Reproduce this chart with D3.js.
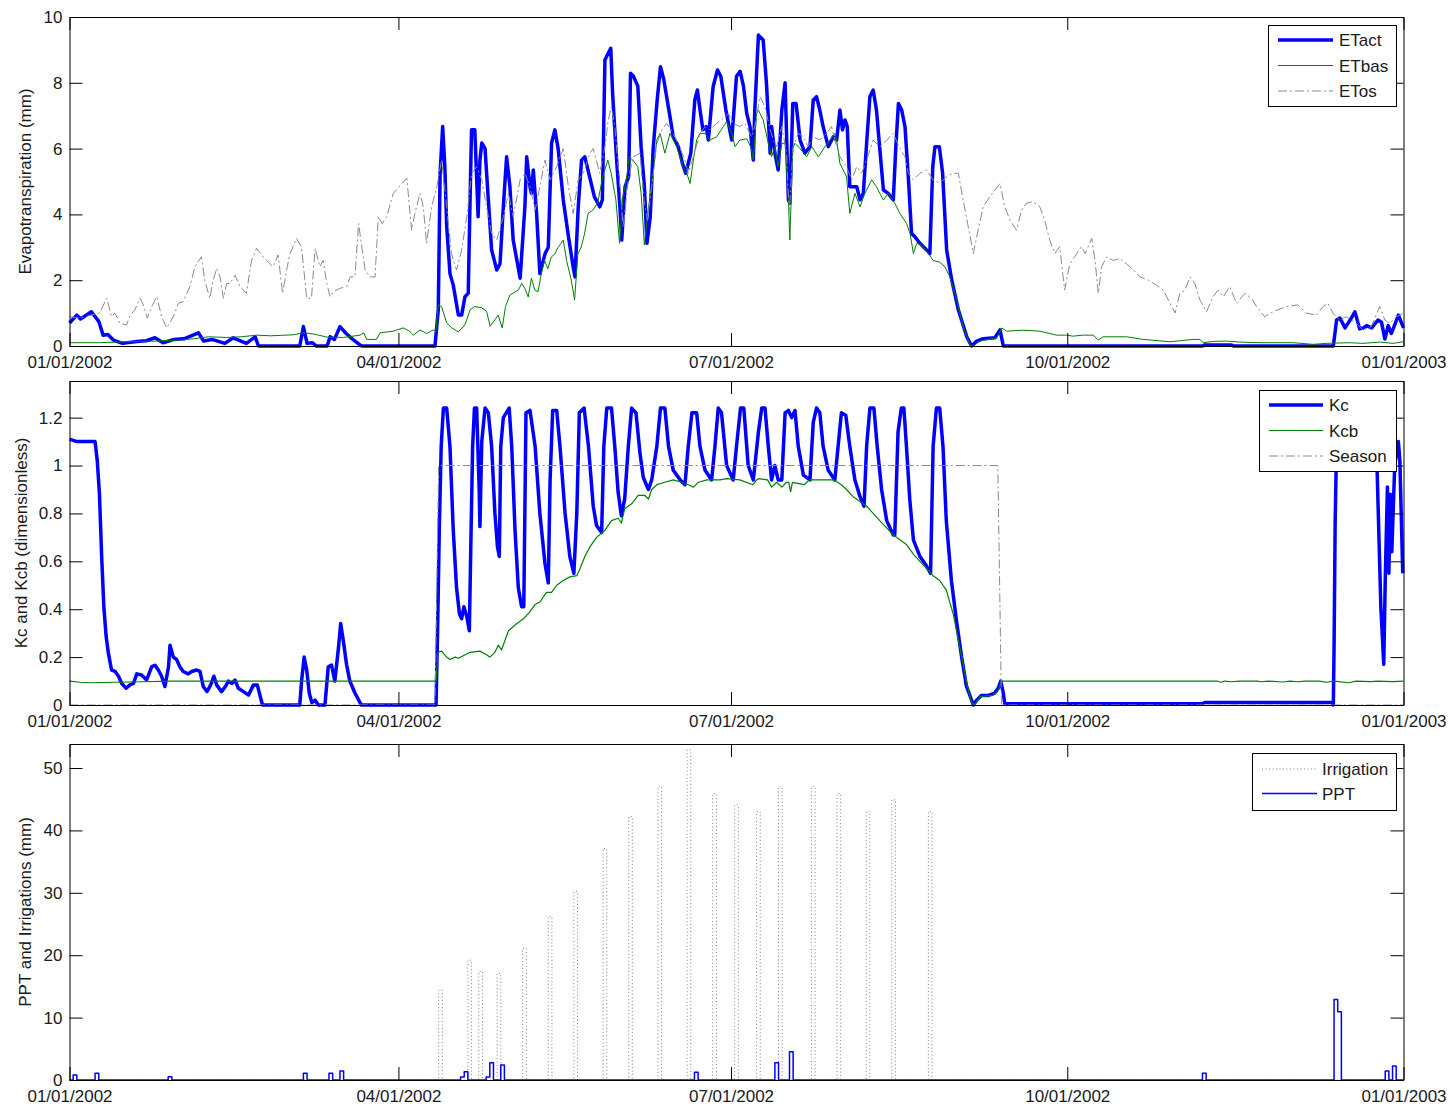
<!DOCTYPE html>
<html>
<head>
<meta charset="utf-8">
<script src="https://cdn.jsdelivr.net/npm/d3@7"></script>
<style>
  html, body { margin: 0; padding: 0; background: #fff; }
  svg { display: block; font-family: "Liberation Sans", Arial, Helvetica, sans-serif; }
</style>
</head>
<body>
<svg id="chart" width="1450" height="1107"></svg>
<script>
// ---- Daily water balance, 2002 (x = day offset from 01/01/2002) ----

// Actual evapotranspiration (mm)
const etAct = [[0,0.70],[2,0.94],[3,0.82],[6,1.04],[8,0.75],[9.2,0.33],[10.5,0.35],[12,0.18],[14.5,0.08],[18.4,0.14],[21,0.16],[23.4,0.25],[25.6,0.1],[28.6,0.2],[31.3,0.22],[35.3,0.4],[36.7,0.15],[39,0.2],[42.5,0.08],[44.8,0.25],[48.4,0.08],[50.8,0.28],[51.7,0],[63,0],[64,0.59],[65,0.08],[66.5,0.1],[67.5,0],[70.5,0],[71.3,0.28],[72.5,0.2],[74,0.59],[75.7,0.38],[77.5,0.2],[79.3,0.05],[80,0],[100,0],[100.9,1.1],[101.4,5.25],[102.1,6.67],[102.7,5.45],[103.2,3.63],[104.1,2.2],[105,1.85],[106.4,0.94],[107.3,0.94],[108.2,1.5],[109.1,1.6],[109.6,4.44],[110,6.57],[110.9,6.57],[111.8,3.93],[112.3,5.65],[112.8,6.17],[113.7,6.0],[114.6,4.44],[115.5,2.92],[116.9,2.31],[117.8,2.5],[118.7,4.23],[119.6,5.75],[120.5,4.84],[121.4,3.22],[123.3,2.06],[124.6,4.23],[125.1,5.75],[126,4.84],[126.4,4.64],[126.9,5.35],[127.8,4.03],[128.7,2.2],[130.1,2.8],[131,3.0],[131.9,6.17],[132.8,6.57],[133.7,6.0],[135.1,4.44],[136.4,3.42],[137.8,2.41],[138.3,2.1],[139.2,4.23],[140.1,5.65],[141,5.75],[142.3,5.15],[143.6,4.54],[145.1,4.23],[145.8,4.44],[146.5,8.69],[147.4,8.9],[148.1,9.05],[148.6,7.68],[149.7,5.65],[150.6,4.23],[151.1,3.22],[152,4.84],[153,5.15],[153.5,8.29],[154.3,8.2],[155.5,7.9],[156.4,6.06],[157.3,4.84],[158,3.12],[158.9,3.93],[159.7,6.0],[160.8,7.48],[161.7,8.49],[162.6,8.1],[164,7.17],[165.2,6.36],[166.6,6.06],[167.7,5.55],[168.6,5.25],[170,5.86],[171.1,7.48],[171.8,7.78],[172.4,7.27],[173.3,6.57],[174.2,6.67],[174.8,6.26],[176.1,7.88],[177.3,8.39],[178.2,8.2],[179.6,7.17],[181.2,6.26],[182.5,8.2],[183.5,8.35],[184.4,7.9],[185.3,7.07],[186.2,6.67],[187.1,5.65],[187.5,7.17],[188.5,9.45],[189.8,9.3],[190.7,7.98],[191.7,5.86],[192.1,6.67],[193,5.86],[193.9,5.35],[194.9,7.17],[195.8,8.0],[196.7,4.44],[197.1,4.34],[197.9,7.37],[198.8,7.37],[199.9,6.26],[201.2,5.86],[202.6,6.06],[203.5,7.48],[204.4,7.58],[205.3,7.17],[206.2,6.67],[207.6,6.06],[209,6.36],[209.9,6.26],[210.8,7.17],[211.5,6.57],[212.2,6.87],[212.8,6.67],[213.5,4.84],[214.4,4.84],[215.4,4.84],[216.3,4.44],[217.2,4.64],[218.1,6.16],[219,7.58],[219.9,7.78],[220.8,7.17],[221.7,6.0],[222.7,4.74],[224,4.64],[225.4,4.44],[226.1,6.06],[226.8,7.37],[227.7,7.17],[228.6,6.67],[229.5,5.15],[230.4,3.42],[231.3,3.32],[232.7,3.12],[234.5,2.92],[235.4,2.81],[236.2,5.45],[236.8,6.06],[238,6.06],[238.9,5.25],[240,2.92],[241.4,2.0],[243.2,1.1],[245.5,0.28],[246.8,0],[248.2,0.15],[250,0.22],[253.2,0.25],[254.6,0.49],[255.5,0],[310,0],[310.5,0.03],[318,0.03],[318.5,0],[345.8,0],[346.7,0.79],[347.6,0.85],[349,0.55],[350.4,0.79],[351.7,1.04],[353,0.52],[354,0.55],[354.9,0.62],[356.3,0.55],[358,0.79],[359,0.72],[359.9,0.21],[360.8,0.62],[361.7,0.38],[363.6,0.94],[365,0.55]];

// Basal evapotranspiration (mm)
const etBas = [[0,0.1],[8,0.1],[15.6,0.13],[24,0.15],[30,0.18],[33.9,0.22],[38,0.28],[43,0.26],[47,0.28],[51.2,0.33],[55,0.31],[61.2,0.34],[64,0.4],[67,0.36],[70.4,0.27],[75,0.26],[79.5,0.33],[80.5,0.4],[81.3,0.2],[84,0.2],[85,0.4],[88.6,0.45],[91.3,0.55],[93,0.45],[94.1,0.33],[95.9,0.49],[97.7,0.38],[99.5,0.49],[100.2,0.43],[100.9,1.25],[101.8,1.2],[103.2,0.7],[104.6,0.55],[106.4,0.43],[108.2,0.64],[109.6,1.1],[110.9,1.2],[112.8,1.16],[114.1,1.06],[115.1,0.6],[116.4,0.8],[117.3,0.94],[118.4,0.55],[119.3,1.2],[120.5,1.55],[122.8,1.7],[123.3,1.8],[123.7,1.9],[124.6,1.75],[125.5,1.49],[126.4,2.06],[127.3,1.7],[128.2,1.65],[129.1,2.2],[130,2.6],[130.9,2.35],[131.8,2.7],[132.8,2.8],[133.7,3.0],[135.1,3.22],[136,2.6],[137.3,2.0],[138.2,1.4],[139.1,2.8],[140,3.0],[140.9,3.4],[141.9,4.03],[143.2,4.13],[144.5,4.34],[145.9,5.15],[147.3,5.65],[148.2,5.25],[149.5,4.44],[150.5,3.12],[151.4,4.54],[152.3,5.05],[153.2,5.75],[154.1,5.65],[155.5,5.45],[156.4,4.64],[157.3,3.07],[158.2,4.03],[159.7,5.25],[160.7,6.26],[161.6,6.46],[162.9,5.86],[164.3,6.46],[166.1,6.06],[167.9,5.45],[168.9,5.25],[169.8,4.94],[170.7,5.65],[171.6,6.26],[172.5,6.46],[173.9,6.46],[175.2,6.26],[177.1,6.36],[178.9,6.67],[179.8,6.82],[181.2,6.46],[182.1,6.06],[183.4,6.26],[185.3,6.3],[186.6,6.0],[187.1,5.65],[188,7.07],[188.5,7.17],[189.8,6.87],[191.2,6.16],[192.1,5.75],[193,6.06],[193.9,5.45],[194.9,6.16],[195.8,6.16],[196.7,4.44],[197.1,3.22],[197.9,6.0],[198.5,6.16],[199.9,6.0],[201.7,5.75],[203.1,6.06],[204.9,5.75],[206.7,6.06],[208.1,6.26],[209.4,6.46],[209.9,6.26],[210.8,5.55],[212.6,5.15],[213.5,4.03],[214.9,4.64],[216.3,4.23],[217.6,4.64],[219.5,5.05],[220.8,4.84],[221.7,4.64],[222.7,4.44],[224,4.64],[225.8,4.34],[227.2,4.03],[229,3.73],[230,3.42],[230.9,2.81],[231.8,3.12],[233.2,3.07],[235,2.81],[236.3,2.6],[238.1,2.55],[239.5,2.41],[240.9,2.1],[242.7,1.4],[244.5,0.59],[246.3,0.05],[247.3,0],[249.1,0.15],[253.7,0.25],[255.1,0.55],[256.4,0.45],[261,0.48],[265.5,0.45],[270.1,0.33],[272.8,0.33],[274.6,0.3],[277.4,0.33],[280.1,0.33],[281.5,0.18],[282.8,0.28],[289.2,0.28],[293.8,0.2],[301.1,0.13],[307.5,0.2],[309.3,0.2],[310.2,0.1],[313,0.14],[316.6,0.15],[320,0.12],[325.7,0.1],[334.8,0.1],[340.3,0.05],[343.9,0.08],[350.3,0.1],[353.9,0.08],[358.5,0.12],[362.2,0.08],[365,0.13]];

// Reference evapotranspiration (mm)
const etOs = [[0,0.89],[3.2,0.85],[6.3,0.95],[8.2,1.0],[10.2,1.45],[11.5,0.89],[12.4,1.0],[13.8,0.69],[15.6,0.64],[16.6,0.94],[17.9,1.1],[19.3,1.45],[20.2,1.25],[21.3,0.85],[22.5,1.2],[23.9,1.5],[25.2,0.89],[26.6,0.55],[28.4,0.89],[29.8,1.3],[31.1,1.35],[33,1.82],[34.3,2.41],[36.1,2.71],[37,2.0],[38.4,1.45],[39.3,2.0],[40.3,2.36],[41.2,2.1],[42.1,1.45],[43,1.9],[43.9,1.9],[45.3,2.15],[46.6,1.82],[48.4,1.6],[49.8,2.6],[51.2,2.97],[53,2.7],[55.7,2.41],[57.1,2.77],[58.3,1.6],[59.4,2.3],[60.3,2.8],[62.1,3.27],[63.5,3.0],[64.9,1.45],[66.2,1.45],[67.2,2.97],[68.5,2.41],[69.4,2.6],[70.4,1.9],[71.3,1.5],[72.2,1.65],[74,1.75],[75.9,1.82],[76.8,2.1],[78.1,2.1],[79.1,3.72],[80,3.0],[80.9,2.3],[82.3,2.1],[83.6,2.1],[84.5,3.93],[85.5,3.72],[86.8,3.93],[88.6,4.64],[92.3,5.1],[93.6,3.52],[94.5,4.03],[95.9,4.64],[96.8,4.23],[97.7,3.12],[99.1,4.23],[100.5,4.84],[101.8,5.65],[103.2,4.23],[104.5,2.81],[105.9,2.31],[107.3,2.92],[108.7,3.93],[110,5.25],[111.4,5.45],[112.8,5.05],[114.1,4.23],[115.5,3.42],[116.9,3.22],[118.7,3.93],[120.1,4.64],[121.4,3.93],[123.3,5.05],[124.6,5.25],[126,4.84],[127.4,4.13],[128.7,4.84],[130.1,5.65],[131.5,5.05],[133.3,5.45],[135.1,6.0],[136.5,4.84],[137.8,4.03],[139.2,5.05],[140.6,5.25],[142.4,5.86],[143.3,6.0],[145.1,5.25],[146.5,6.06],[147.4,6.87],[148.3,7.27],[149.2,6.67],[150.6,4.84],[151.5,3.63],[152.9,5.05],[154.2,5.75],[156.1,5.86],[157.2,4.44],[158.1,3.83],[159.3,4.84],[160.7,6.16],[162.1,6.57],[163.4,6.77],[165.2,6.46],[167.1,6.0],[168.4,5.65],[169.3,5.25],[170.7,5.75],[172.5,6.46],[173.9,6.67],[175.2,6.57],[177.1,6.77],[178.4,6.87],[180.3,7.07],[181.6,6.77],[183.4,6.67],[184.8,6.77],[186.6,6.36],[187.5,6.67],[188.9,7.58],[190.3,7.27],[191.7,6.57],[192.6,6.26],[193.5,6.06],[194.9,6.67],[196.2,5.86],[196.9,4.03],[198,6.06],[199.4,6.46],[200.8,6.36],[202.1,6.06],[203.5,6.36],[205.3,6.26],[207.1,6.46],[208.5,6.67],[209.9,6.06],[210.8,5.75],[212.6,5.45],[214,5.05],[215.4,5.45],[216.7,5.25],[218.1,5.65],[219.9,6.26],[221.7,6.06],[223.6,6.26],[225.4,6.46],[227.2,6.0],[228.6,5.75],[229.5,5.25],[230.9,5.05],[232.7,5.25],[234.5,5.35],[236.3,5.05],[238.1,4.94],[240,5.15],[241.8,5.25],[243.2,5.25],[244.5,4.44],[245.9,3.63],[247.3,2.81],[248.6,3.52],[250,4.23],[251.8,4.54],[253.2,4.74],[254.6,4.94],[255.9,4.23],[257.3,3.83],[259.1,3.52],[260.5,4.13],[261.8,4.34],[263.6,4.39],[265.5,4.23],[266.8,3.83],[268.2,3.22],[269.6,2.81],[270.9,3.02],[272.3,1.7],[273.7,2.5],[275,2.71],[276.9,3.02],[277.9,2.81],[279.7,3.27],[280.6,2.6],[281.5,1.6],[282.4,2.41],[283.8,2.71],[285.6,2.6],[287.4,2.66],[289.2,2.5],[291.1,2.31],[292.9,2.1],[295.2,2.0],[297.4,1.85],[299.3,1.7],[301.1,1.3],[302.5,1.0],[303.8,1.6],[305.2,1.7],[306.6,2.1],[307.9,1.9],[309.3,1.4],[311.1,1.04],[312.9,1.5],[314.3,1.7],[315.7,1.5],[317.5,1.8],[319.3,1.3],[321.6,1.6],[323.4,1.45],[324.8,1.2],[327,0.89],[329.3,1.04],[333,1.2],[336.1,1.25],[338.4,1.0],[341.2,0.94],[343,1.2],[344.3,1.3],[345.7,1.0],[347.5,0.79],[349.4,0.89],[352.1,0.69],[353.9,0.49],[356.2,0.59],[358.5,1.2],[359.9,0.79],[361.2,0.69],[363.1,0.89],[365,1.0]];

// Crop coefficient Kc (dimensionless)
const kc = [[0,1.11],[2,1.10],[7,1.10],[7.6,1.02],[8.2,0.88],[8.8,0.62],[9.4,0.41],[10,0.29],[10.6,0.22],[11.5,0.146],[12.5,0.14],[13.4,0.12],[14.3,0.09],[15.5,0.07],[16.6,0.085],[17.5,0.09],[18.4,0.13],[19.7,0.125],[21.1,0.105],[22.5,0.16],[23.4,0.166],[24.3,0.146],[25.2,0.12],[26.1,0.077],[27.1,0.16],[27.5,0.25],[28.4,0.2],[29.3,0.19],[30.2,0.16],[31.1,0.14],[32.5,0.13],[33.4,0.14],[34.8,0.146],[35.7,0.14],[36.6,0.077],[37.6,0.056],[38.6,0.083],[39.5,0.12],[40.3,0.083],[41.6,0.056],[42.6,0.076],[43.5,0.1],[44.4,0.09],[45.3,0.104],[46.2,0.07],[47.6,0.056],[49,0.042],[50.3,0.083],[51.4,0.083],[52.1,0.042],[52.8,0],[63,0],[63.5,0.1],[64.2,0.2],[64.9,0.146],[65.6,0.05],[66.3,0.01],[67.2,0.02],[68.1,0],[69.9,0],[70.8,0.16],[71.7,0.167],[72.6,0.1],[73.6,0.24],[74.2,0.34],[74.9,0.27],[75.8,0.17],[76.7,0.1],[78.1,0.05],[79.5,0.01],[79.9,0],[100.3,0],[100.7,0.3],[101.2,0.75],[101.7,1.08],[102.3,1.24],[103.2,1.24],[104.1,1.08],[105,0.73],[105.9,0.49],[106.7,0.38],[107.3,0.36],[107.9,0.41],[108.7,0.37],[109.4,0.31],[109.8,0.66],[110.3,1.08],[110.8,1.24],[111.4,1.24],[112.1,0.9],[112.3,0.745],[112.8,1.1],[113.7,1.24],[114.6,1.22],[115.5,1.08],[116.4,0.8],[117.1,0.66],[117.6,0.62],[118,1.08],[118.7,1.2],[120.3,1.24],[121,1.08],[121.9,0.73],[122.8,0.49],[123.7,0.41],[124.3,0.41],[124.9,1.22],[126,1.23],[127.4,1.08],[128.7,0.8],[130.1,0.59],[131,0.51],[131.5,0.94],[132.2,1.23],[133.3,1.23],[134.2,1.08],[135.6,0.8],[136.9,0.62],[138,0.55],[138.8,0.8],[139.5,1.22],[140.8,1.24],[142,1.08],[143.3,0.83],[144.2,0.75],[145.6,0.72],[146.2,1.08],[147,1.24],[148.3,1.24],[149.2,1.08],[150.1,0.89],[151,0.79],[151.9,0.86],[152.9,1.08],[153.8,1.24],[155,1.22],[156.1,1.05],[157,0.95],[158.4,0.9],[159.3,0.94],[160.7,1.08],[161.7,1.24],[162.9,1.24],[163.9,1.08],[165.2,0.98],[167.1,0.94],[168.4,0.92],[169.3,1.08],[170.3,1.22],[171.6,1.22],[172.5,1.08],[173.9,0.98],[175.7,0.94],[176.6,1.08],[177.5,1.24],[178.4,1.22],[179.8,1.0],[181.6,0.94],[182.5,1.08],[183.6,1.24],[184.5,1.24],[185.7,1.0],[187.1,0.94],[188.5,1.14],[189.4,1.24],[190.3,1.24],[191.2,1.08],[192.1,0.94],[193,1.0],[193.9,0.94],[194.9,0.94],[195.8,1.22],[196.7,1.23],[197.6,1.2],[198.5,1.23],[199.4,1.08],[200.8,0.96],[202.6,0.94],[203.5,1.18],[204.4,1.24],[205.3,1.22],[206.2,1.08],[207.6,0.98],[209.4,0.94],[210.3,1.08],[211.2,1.22],[212.4,1.21],[213.5,1.08],[214.9,0.94],[216.3,0.87],[217.4,0.83],[218.1,1.08],[219,1.24],[220.1,1.24],[221,1.08],[222.2,0.9],[223.6,0.77],[225.4,0.71],[225.8,0.71],[226.7,1.14],[227.6,1.24],[228.3,1.24],[229,1.08],[229.9,0.86],[230.9,0.69],[232.7,0.62],[234.1,0.59],[235.6,0.55],[236.3,1.08],[237.2,1.24],[238.1,1.24],[239,1.08],[239.9,0.77],[241.3,0.52],[242.7,0.35],[244.1,0.2],[245.4,0.08],[247.3,0],[248.2,0.02],[249.5,0.04],[251.4,0.04],[253.2,0.05],[254.1,0.07],[254.8,0.1],[255.5,0.05],[255.9,0.005],[310,0.005],[310.5,0.01],[345.5,0.01],[345.8,0],[346,0.24],[346.3,0.76],[346.7,1.1],[357.3,1.1],[357.8,0.97],[358.5,0.58],[358.8,0.41],[359.6,0.17],[360,0.52],[360.6,0.91],[361,0.55],[361.4,0.88],[361.8,0.64],[362.6,1.0],[363.6,1.1],[364,1.02],[364.8,0.55]];

// Basal crop coefficient Kcb (dimensionless)
const kcb = [[0,0.1],[3,0.095],[6,0.093],[12,0.095],[20,0.097],[28,0.1],[100.3,0.1],[100.8,0.22],[101.8,0.225],[103.2,0.2],[104.1,0.19],[105.5,0.2],[106.4,0.195],[109.6,0.22],[112.3,0.225],[114.1,0.21],[115,0.2],[116.4,0.22],[117.3,0.25],[118.2,0.23],[120.1,0.31],[122.4,0.34],[124.2,0.36],[126,0.39],[127.4,0.42],[128.7,0.43],[130.5,0.47],[131.9,0.47],[133.3,0.5],[135.1,0.52],[136.9,0.535],[138.8,0.54],[139.7,0.57],[141,0.62],[142.4,0.66],[144.2,0.7],[146.5,0.73],[148.3,0.77],[150.1,0.78],[151,0.76],[151.9,0.82],[153.8,0.84],[155.6,0.875],[157.4,0.875],[158.4,0.86],[159.3,0.9],[160.7,0.92],[162.9,0.93],[165.2,0.94],[167.5,0.93],[169.3,0.92],[170.7,0.91],[172.1,0.93],[174.4,0.94],[178,0.94],[179.8,0.945],[183.4,0.94],[187,0.92],[188,0.94],[188.5,0.945],[191,0.94],[192.1,0.91],[193.5,0.93],[194.9,0.91],[196.2,0.93],[196.8,0.93],[197.3,0.89],[197.8,0.93],[201,0.92],[202.4,0.94],[205.6,0.94],[209.2,0.94],[211.2,0.92],[212.6,0.9],[214.4,0.87],[216.3,0.85],[218.1,0.83],[219.9,0.8],[221.7,0.77],[223.6,0.74],[225.4,0.71],[227.2,0.69],[229,0.67],[230.9,0.63],[232.7,0.6],[234.5,0.57],[236.3,0.54],[238.1,0.52],[239.9,0.48],[241.8,0.38],[243.6,0.24],[245.4,0.1],[246.8,0.01],[247.7,0],[249.1,0.035],[252.7,0.04],[254.1,0.06],[255,0.1],[314,0.1],[315,0.095],[316,0.1],[318,0.097],[320,0.1],[325,0.1],[326,0.097],[328,0.1],[332,0.096],[334,0.1],[336,0.097],[338,0.1],[342,0.1],[344,0.095],[346,0.1],[350,0.093],[352,0.1],[356,0.098],[358,0.1],[362,0.098],[365,0.1]];

// Growing season flag
const season = [[0,0],[100,0],[101,1],[254,1],[255,0],[365,0]];

// Irrigation events: [day, depth mm]
const irrigation = [[101,14.4],[109,19.2],[112,17.4],[117,17.1],[124,21.1],[131,26.2],[138,30.2],[146,37.1],[153,42.2],[161,47.0],[169,52.9],[176,45.9],[182,44.1],[188,43.0],[194,47.0],[203,47.0],[210,45.9],[218,43.0],[225,44.9],[235,43.0]];

// Precipitation events: [day, depth mm]
const ppt = [[1,0.8],[7,1.07],[27,0.53],[64,1.07],[71,1.07],[74,1.44],[107,0.5],[108,1.33],[114,0.5],[115,2.78],[118,2.4],[171,1.23],[193,2.78],[197,4.54],[310,1.07],[346,12.9],[347,10.95],[360,1.44],[362,2.24]];

// Axis ticks
const dateTicks = ["2002-01-01", "2002-04-01", "2002-07-01", "2002-10-01", "2003-01-01"];
const etTicks = [0, 2, 4, 6, 8, 10];
const kcTicks = [0, 0.2, 0.4, 0.6, 0.8, 1, 1.2];
const pptTicks = [0, 10, 20, 30, 40, 50];

// ---------------------------------------------------------------
const svg = d3.select("#chart");
svg.append("rect").attr("width", 1450).attr("height", 1107).attr("fill", "#fff");

const t0 = new Date(Date.UTC(2002, 0, 1));
const t1 = new Date(Date.UTC(2003, 0, 1));
const dayToDate = d => new Date(t0.getTime() + d * 864e5);
const tickDates = dateTicks.map(s => new Date(s + "T00:00:00Z"));
const fmtDate = d3.utcFormat("%m/%d/%Y");

const x = d3.scaleUtc().domain([t0, t1]).range([69.5, 1403.5]);

const BLUE = "#0000ff", GREEN = "#008000", GRAY = "#8a8a8a";
const DASHDOT = "9,3,2,3";
const FS = 17;
const TICK = 13;

function daily(events) {
  const m = new Map(events.map(e => [e[0], e[1]]));
  return d3.range(0, 366).map(d => [d, m.get(d) || 0]);
}

function panel(cfg) {
  const y = d3.scaleLinear().domain(cfg.domain).range([cfg.bottom, cfg.top]);
  const g = svg.append("g");

  // data lines
  cfg.series.forEach(s => {
    const line = d3.line()
      .x(d => x(dayToDate(d[0])))
      .y(d => y(d[1]))
      .curve(s.step ? d3.curveStepAfter : d3.curveLinear);
    g.append("path")
      .datum(s.data)
      .attr("d", line)
      .attr("fill", "none")
      .attr("stroke", s.color)
      .attr("stroke-width", s.width)
      .attr("stroke-linejoin", "round")
      .attr("stroke-dasharray", s.dash || null);
  });

  // axes: ticks pointing inward on all four sides
  const ax = svg.append("g").attr("color", "#000")
    .style("font-family", "'Liberation Sans', Arial, sans-serif");
  ax.append("g").attr("transform", `translate(0,${cfg.bottom})`)
    .call(d3.axisBottom(x).tickValues(tickDates).tickFormat(fmtDate)
      .tickSizeInner(-TICK).tickSizeOuter(0).tickPadding(10));
  ax.append("g").attr("transform", `translate(0,${cfg.top})`)
    .call(d3.axisTop(x).tickValues(tickDates).tickFormat("")
      .tickSizeInner(-TICK).tickSizeOuter(0));
  ax.append("g").attr("transform", `translate(${x.range()[0]},0)`)
    .call(d3.axisLeft(y).tickValues(cfg.ticks).tickFormat(d => String(d))
      .tickSizeInner(-TICK).tickSizeOuter(0).tickPadding(7));
  ax.append("g").attr("transform", `translate(${x.range()[1]},0)`)
    .call(d3.axisRight(y).tickValues(cfg.ticks).tickFormat("")
      .tickSizeInner(-TICK).tickSizeOuter(0));
  ax.selectAll("text").attr("font-size", FS).attr("fill", "#1a1a1a");
  ax.selectAll(".domain").attr("stroke", "#000");

  // y-axis title
  svg.append("text")
    .attr("transform", `translate(${cfg.labelX},${(cfg.top + cfg.bottom) / 2}) rotate(-90)`)
    .attr("text-anchor", "middle")
    .attr("font-size", FS)
    .attr("fill", "#1a1a1a")
    .text(cfg.label);

  // legend
  const L = cfg.legend;
  const lg = svg.append("g");
  lg.append("rect")
    .attr("x", L.x + 0.5).attr("y", L.y + 0.5)
    .attr("width", L.w).attr("height", L.h)
    .attr("fill", "#fff").attr("stroke", "#000").attr("stroke-width", 1);
  cfg.series.forEach((s, i) => {
    const yy = L.y + L.first + i * L.step;
    lg.append("line")
      .attr("x1", L.x + L.lx0).attr("x2", L.x + L.lx1)
      .attr("y1", yy).attr("y2", yy)
      .attr("stroke", s.color).attr("stroke-width", s.width)
      .attr("stroke-dasharray", s.dash || null);
    lg.append("text")
      .attr("x", L.x + L.tx).attr("y", yy)
      .attr("dy", "0.36em")
      .attr("font-size", FS).attr("fill", "#1a1a1a")
      .text(s.name);
  });
}

panel({
  top: 17, bottom: 346, domain: [0, 10], ticks: etTicks,
  label: "Evapotranspiration (mm)", labelX: 31,
  series: [
    { name: "ETact", data: etAct, color: BLUE, width: 3.5 },
    { name: "ETbas", data: etBas, color: GREEN, width: 1 },
    { name: "ETos", data: etOs, color: GRAY, width: 1, dash: DASHDOT }
  ],
  legend: { x: 1268, y: 25, w: 128, h: 81, first: 15, step: 25.5, lx0: 10, lx1: 65, tx: 71 }
});

panel({
  top: 381, bottom: 705, domain: [0, 1.353], ticks: kcTicks,
  label: "Kc and Kcb (dimensionless)", labelX: 27,
  series: [
    { name: "Kc", data: kc, color: BLUE, width: 3.5 },
    { name: "Kcb", data: kcb, color: GREEN, width: 1.2 },
    { name: "Season", data: season, color: GRAY, width: 1, dash: DASHDOT }
  ],
  legend: { x: 1259, y: 390, w: 137, h: 81, first: 15, step: 25.5, lx0: 10, lx1: 64, tx: 70 }
});

panel({
  top: 744, bottom: 1080, domain: [0, 53.85], ticks: pptTicks,
  label: "PPT and Irrigations (mm)", labelX: 31,
  series: [
    { name: "Irrigation", data: daily(irrigation), color: "#808080", width: 1, dash: "1,2.5", step: true },
    { name: "PPT", data: daily(ppt), color: BLUE, width: 1.5, step: true }
  ],
  legend: { x: 1252, y: 753, w: 144, h: 57, first: 16, step: 24.5, lx0: 10, lx1: 65, tx: 70 }
});
</script>
</body>
</html>
